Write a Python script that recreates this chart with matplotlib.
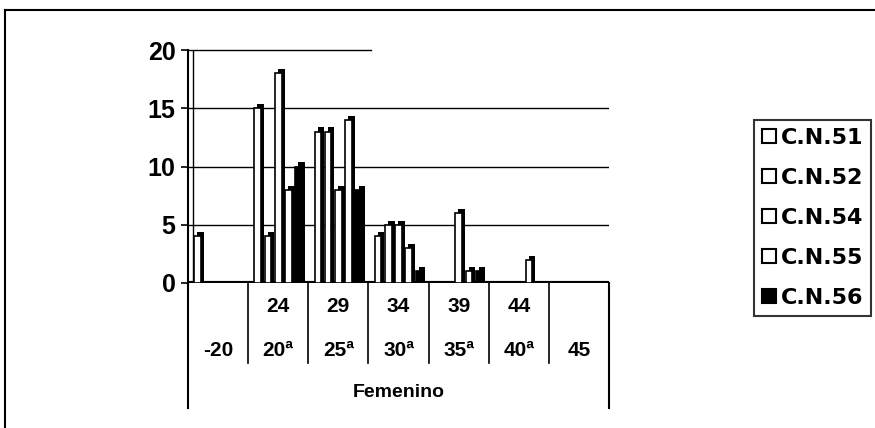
import matplotlib.pyplot as plt
from matplotlib.lines import Line2D
from matplotlib.patches import Patch

plt.rcParams["font.family"] = ["Liberation Sans", "DejaVu Sans"]
plt.rcParams["font.weight"] = "bold"

# categories (two label rows under the axis)
age_upper = ["", "24", "29", "34", "39", "44", ""]
age_lower = ["-20", "20ª", "25ª", "30ª", "35ª", "40ª", "45"]
group_label = "Femenino"

series_names = ["C.N.51", "C.N.52", "C.N.54", "C.N.55", "C.N.56"]
cn51 = [4, 15, 13, 4, 0, 0, 0]
cn52 = [0, 4, 13, 5, 0, 0, 0]
cn54 = [0, 18, 8, 5, 6, 0, 0]
cn55 = [0, 8, 14, 3, 1, 2, 0]
cn56 = [0, 10, 8, 1, 1, 0, 0]
series_values = [cn51, cn52, cn54, cn55, cn56]
face_colors = ["white", "white", "white", "white", "black"]

fig = plt.figure(figsize=(8.75, 4.28), dpi=100)

# axes placed in figure pixels: x 188..609, y 50..283
ax = fig.add_axes([188 / 875, (428 - 283) / 428, 421 / 875, 233 / 428])

n_cat = len(age_lower)
x = list(range(n_cat))
step = 0.17
width = 0.11
depth_x = 0.05
depth_y = 0.35

for i, (vals, color) in enumerate(zip(series_values, face_colors)):
    pos = [c + (i - 2) * step for c in x]
    back_pos = [p + depth_x for p in pos]
    back_h = [v + depth_y if v > 0 else 0 for v in vals]
    ax.bar(back_pos, back_h, width, color="black", zorder=3 + i * 2)
    ax.bar(pos, vals, width, color=color, edgecolor="black",
           linewidth=1.2, zorder=4 + i * 2)

ax.set_xlim(-0.5, n_cat - 0.5)
ax.set_ylim(0, 20)
ax.set_yticks([0, 5, 10, 15, 20])
ax.tick_params(axis="y", labelsize=18, length=5, width=1.2, pad=4)
ax.set_xticks([])

for s in ["top", "right", "bottom"]:
    ax.spines[s].set_visible(False)
ax.spines["left"].set_linewidth(1.5)

# gridlines and 3D floor
for g in [5, 10, 15]:
    ax.axhline(g, color="black", linewidth=1, zorder=1)
ax.plot([-0.5, 2.55], [20, 20], color="black", linewidth=1, zorder=1, clip_on=False)
ax.axhline(0, color="black", linewidth=3, zorder=2)
ax.axvline(-0.42, color="black", linewidth=1, zorder=1)

# category table below the plot
tr = ax.get_xaxis_transform()
for b in range(1, n_cat):
    ax.plot([b - 0.5, b - 0.5], [0, -0.343], color="black", linewidth=1.2,
            transform=tr, clip_on=False)
for b in [-0.5, n_cat - 0.5]:
    ax.plot([b, b], [0, -0.536], color="black", linewidth=1.5,
            transform=tr, clip_on=False)

for c in x:
    if age_upper[c]:
        ax.text(c, -0.103, age_upper[c], transform=tr, ha="center",
                va="center", fontsize=15)
    ax.text(c, -0.288, age_lower[c], transform=tr, ha="center",
            va="center", fontsize=15)
ax.text((n_cat - 1) / 2, -0.472, group_label, transform=tr, ha="center",
        va="center", fontsize=14)

# outer chart border (left and top edges)
fig.add_artist(Line2D([5 / 875, 5 / 875], [0, (428 - 10) / 428],
                      color="black", linewidth=1.5))
fig.add_artist(Line2D([5 / 875, 1], [(428 - 10) / 428, (428 - 10) / 428],
                      color="black", linewidth=1.5))

handles = [Patch(facecolor=fc, edgecolor="black", linewidth=1.5)
           for fc in face_colors]
leg = fig.legend(
    handles,
    series_names,
    loc="upper left",
    bbox_to_anchor=(754 / 875, (428 - 120) / 428),
    frameon=True,
    fancybox=False,
    prop={"family": "DejaVu Sans", "weight": "bold", "size": 16},
    handlelength=0.65,
    handleheight=0.65,
    handletextpad=0.2,
    labelspacing=0.9,
    borderpad=0.35,
    borderaxespad=0,
)
leg.get_frame().set_edgecolor("black")
leg.get_frame().set_linewidth(1.5)

fig.savefig("out.png", dpi=100)
plt.close(fig)
